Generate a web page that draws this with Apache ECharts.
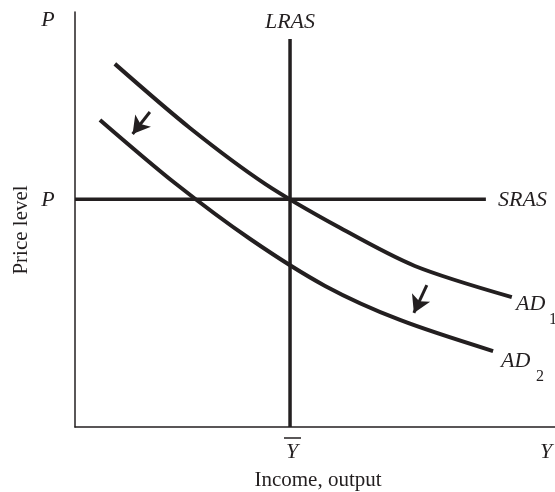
<!DOCTYPE html>
<html>
<head>
<meta charset="utf-8">
<script src="https://cdn.jsdelivr.net/npm/echarts@6/dist/echarts.min.js"></script>
<style>
  html, body { margin: 0; padding: 0; background: #fff; }
  #chart { width: 555px; height: 492px; }
</style>
</head>
<body>
<div id="chart"></div>
<script>
// curves in abstract units: x 0..100 (income), y 0..100 (price level)
const ad1X = [8.3, 24.0, 39.6, 55.2, 70.8, 91.0]
const ad1Y = [87.5, 72.0, 58.6, 48.0, 38.8, 31.3]
const ad2X = [5.2, 20.8, 36.5, 52.1, 67.7, 87.1]
const ad2Y = [74.0, 58.8, 45.3, 34.0, 25.8, 18.3]
const yBar = 44.8
const pLevel = 54.9
const lrasTop = 93.5
const srasEnd = 85.6
// shift arrows: [from, to]
const arrow1 = [[15.6, 75.9], [12.0, 70.6]]
const arrow2 = [[73.3, 34.2], [70.6, 27.5]]

const font = '"Liberation Serif", "DejaVu Serif", serif'
const ink = '#231f20'

const zip = (xs, ys) => xs.map((x, i) => [x, ys[i]])

function txt (text, x, y, opts) {
  opts = opts || {}
  return {
    type: 'text',
    x: x,
    y: y,
    rotation: opts.rotation || 0,
    style: {
      text: text,
      font: (opts.italic === false ? '' : 'italic ') + (opts.size || 22) + 'px ' + font,
      fill: ink,
      align: opts.align || 'center',
      textAlign: opts.align || 'center',
      verticalAlign: 'middle',
      textVerticalAlign: 'middle'
    }
  }
}

const chart = echarts.init(document.getElementById('chart'))

const curveStyle = { color: ink, width: 4, cap: 'butt' }

chart.setOption({
  animation: false,
  grid: { left: 75, right: 0, top: 12, bottom: 65 },
  xAxis: {
    type: 'value', min: 0, max: 100,
    axisLine: { show: true, lineStyle: { color: ink, width: 1.5 } },
    axisTick: { show: false }, axisLabel: { show: false }, splitLine: { show: false }
  },
  yAxis: {
    type: 'value', min: 0, max: 100,
    axisLine: { show: true, lineStyle: { color: ink, width: 1.5 } },
    axisTick: { show: false }, axisLabel: { show: false }, splitLine: { show: false }
  },
  series: [
    {
      name: 'LRAS', type: 'line', showSymbol: false, silent: true,
      data: [[yBar, 0], [yBar, lrasTop]],
      lineStyle: { color: ink, width: 3.5 }
    },
    {
      name: 'SRAS', type: 'line', showSymbol: false, silent: true,
      data: [[0, pLevel], [srasEnd, pLevel]],
      lineStyle: { color: ink, width: 3.5 }
    },
    {
      name: 'AD1', type: 'line', showSymbol: false, silent: true, smooth: 0.3,
      data: zip(ad1X, ad1Y),
      lineStyle: curveStyle
    },
    {
      name: 'AD2', type: 'line', showSymbol: false, silent: true, smooth: 0.3,
      data: zip(ad2X, ad2Y),
      lineStyle: curveStyle,
      markLine: {
        silent: true,
        symbol: ['none', 'arrow'],
        symbolSize: [15, 17],
        label: { show: false },
        lineStyle: { color: ink, width: 3, type: 'solid' },
        data: [
          [{ coord: arrow1[0] }, { coord: arrow1[1] }],
          [{ coord: arrow2[0] }, { coord: arrow2[1] }]
        ]
      }
    }
  ],
  graphic: [
    txt('P', 48, 20),
    txt('LRAS', 290, 22),
    txt('P', 48, 200),
    txt('SRAS', 498, 200, { align: 'left' }),
    txt('AD', 516, 304, { align: 'left' }),
    txt('1', 549, 320, { align: 'left', size: 16, italic: false }),
    txt('AD', 501, 361, { align: 'left' }),
    txt('2', 536, 377, { align: 'left', size: 16, italic: false }),
    txt('Y', 292, 452),
    {
      type: 'line',
      shape: { x1: 284, y1: 438, x2: 301, y2: 438 },
      style: { stroke: ink, lineWidth: 1.5 }
    },
    txt('Y', 546, 452),
    txt('Income, output', 318, 480, { italic: false, size: 21 }),
    txt('Price level', 21, 230, { italic: false, size: 21, rotation: Math.PI / 2 })
  ]
})
</script>
</body>
</html>
